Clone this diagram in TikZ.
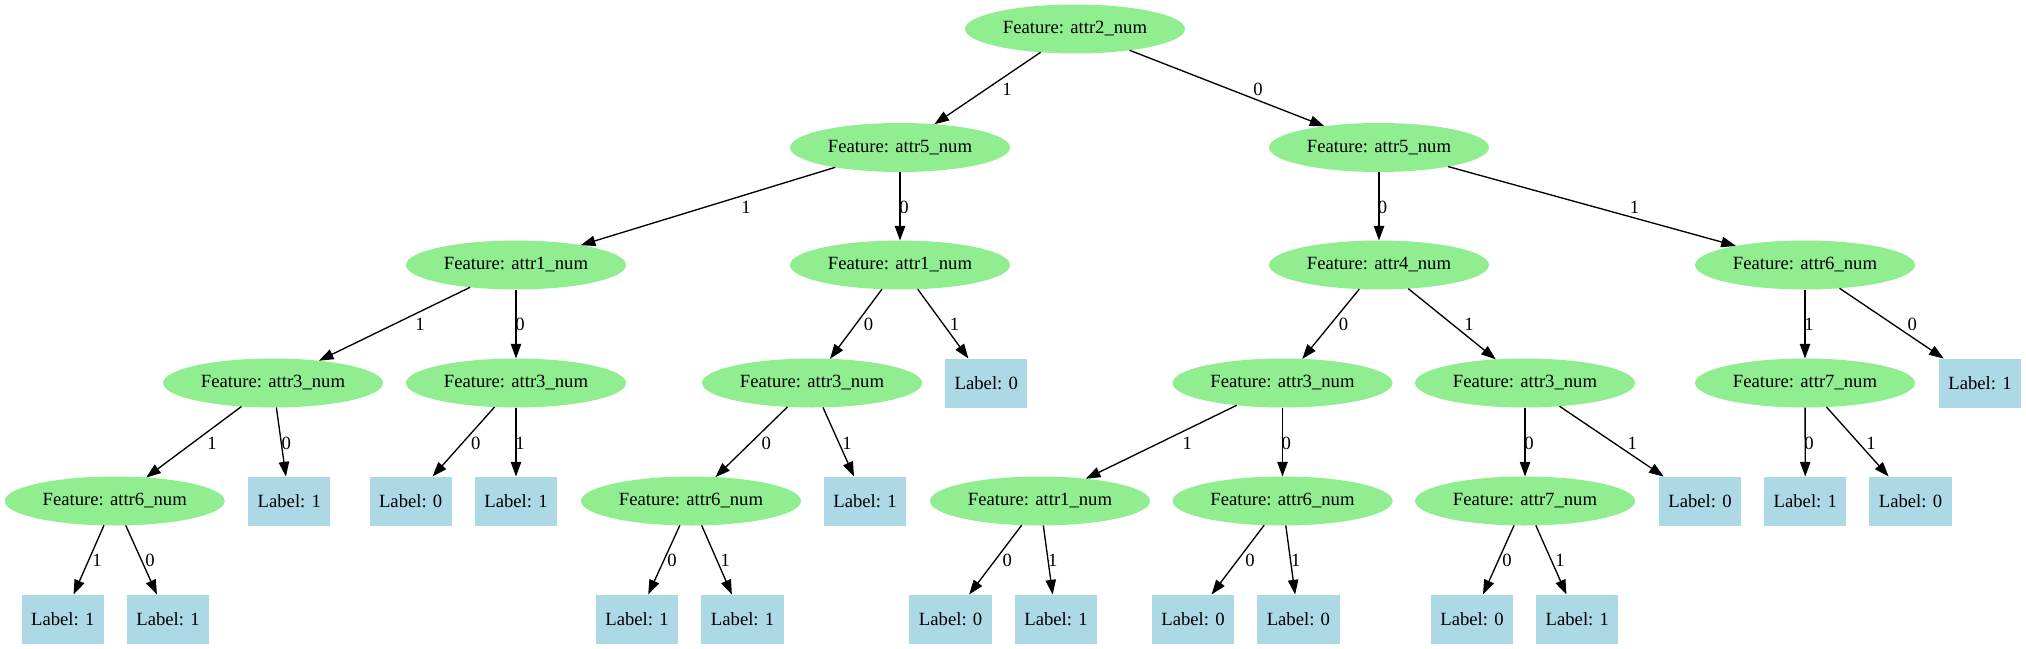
\documentclass[tikz,border=0pt]{standalone}
\usepackage{fontspec}
\setmainfont{Liberation Serif}
\usetikzlibrary{shapes.geometric,arrows.meta}
\definecolor{lgreen}{HTML}{90EE90}
\definecolor{lblue}{HTML}{ADD8E6}
\begin{document}
\begin{tikzpicture}[x=0.75pt,y=-0.75pt,
  every node/.style={font=\fontsize{14pt}{16pt}\selectfont},
  feat/.style={ellipse,fill=lgreen,draw=none,minimum width=165pt,minimum height=36.75pt,inner sep=0pt,outer sep=0pt},
  leaf/.style={rectangle,fill=lblue,draw=none,minimum width=61.7pt,minimum height=36.75pt,inner sep=0pt,outer sep=0pt},
  edge/.style={draw=black,line width=1pt,-{Triangle[length=11pt,width=7.8pt]}},
  elab/.style={inner sep=0pt,fill=none}]
\useasboundingbox (0,0) rectangle (2026,649);
% row 0
\node[feat] (r) at (1075,29) {Feature: attr2\_num};
% row 1
\node[feat] (a5L) at (900,147.5) {Feature: attr5\_num};
\node[feat] (a5R) at (1379,147.5) {Feature: attr5\_num};
% row 2
\node[feat] (a1L) at (516,265) {Feature: attr1\_num};
\node[feat] (a1M) at (900,265) {Feature: attr1\_num};
\node[feat] (a4) at (1379,265) {Feature: attr4\_num};
\node[feat] (a6R) at (1805,265) {Feature: attr6\_num};
% row 3
\node[feat] (a3a) at (273,383) {Feature: attr3\_num};
\node[feat] (a3b) at (516,383) {Feature: attr3\_num};
\node[feat] (a3c) at (812,383) {Feature: attr3\_num};
\node[leaf] (l3a) at (986.3,383) {Label: 0};
\node[feat] (a3d) at (1282.5,383) {Feature: attr3\_num};
\node[feat] (a3e) at (1525,383) {Feature: attr3\_num};
\node[feat] (a7a) at (1805,383) {Feature: attr7\_num};
\node[leaf] (l3b) at (1980,383) {Label: 1};
% row 4
\node[feat] (a6a) at (114.7,501) {Feature: attr6\_num};
\node[leaf] (l4a) at (289.3,501) {Label: 1};
\node[leaf] (l4b) at (410.7,501) {Label: 0};
\node[leaf] (l4c) at (516,501) {Label: 1};
\node[feat] (a6b) at (691,501) {Feature: attr6\_num};
\node[leaf] (l4d) at (865,501) {Label: 1};
\node[feat] (a1b) at (1040,501) {Feature: attr1\_num};
\node[feat] (a6c) at (1282.5,501) {Feature: attr6\_num};
\node[feat] (a7b) at (1525,501) {Feature: attr7\_num};
\node[leaf] (l4e) at (1700,501) {Label: 0};
\node[leaf] (l4f) at (1805.3,501) {Label: 1};
\node[leaf] (l4g) at (1910.5,501) {Label: 0};
% row 5
\node[leaf] (l5a) at (62.8,619) {Label: 1};
\node[leaf] (l5b) at (168,619) {Label: 1};
\node[leaf] (l5c) at (637,619) {Label: 1};
\node[leaf] (l5d) at (742.6,619) {Label: 1};
\node[leaf] (l5e) at (950.6,619) {Label: 0};
\node[leaf] (l5f) at (1056,619) {Label: 1};
\node[leaf] (l5g) at (1193,619) {Label: 0};
\node[leaf] (l5h) at (1298.4,619) {Label: 0};
\node[leaf] (l5i) at (1472,619) {Label: 0};
\node[leaf] (l5j) at (1577.3,619) {Label: 1};
% edges row 0-1
\draw[edge] (r) -- (a5L) node[elab] at (1007,89.3) {1};
\draw[edge] (r) -- (a5R) node[elab] at (1258,89.3) {0};
% row 1-2
\draw[edge] (a5L) -- (a1L) node[elab] at (746,207.3) {1};
\draw[edge] (a5L) -- (a1M) node[elab] at (904,207.3) {0};
\draw[edge] (a5R) -- (a4) node[elab] at (1382.4,207.3) {0};
\draw[edge] (a5R) -- (a6R) node[elab] at (1634.4,207.3) {1};
% row 2-3
\draw[edge] (a1L) -- (a3a) node[elab] at (420,324) {1};
\draw[edge] (a1L) -- (a3b) node[elab] at (520,324) {0};
\draw[edge] (a1M) -- (a3c) node[elab] at (868.5,324) {0};
\draw[edge] (a1M) -- (l3a) node[elab] at (954.6,324) {1};
\draw[edge] (a4) -- (a3d) node[elab] at (1343.5,324) {0};
\draw[edge] (a4) -- (a3e) node[elab] at (1469,324) {1};
\draw[edge] (a6R) -- (a7a) node[elab] at (1809,324) {1};
\draw[edge] (a6R) -- (l3b) node[elab] at (1912.3,324) {0};
% row 3-4
\draw[edge] (a3a) -- (a6a) node[elab] at (212,443.3) {1};
\draw[edge] (a3a) -- (l4a) node[elab] at (286.2,443.3) {0};
\draw[edge] (a3b) -- (l4b) node[elab] at (475.8,443.3) {0};
\draw[edge] (a3b) -- (l4c) node[elab] at (520,443.3) {1};
\draw[edge] (a3c) -- (a6b) node[elab] at (766.2,443.3) {0};
\draw[edge] (a3c) -- (l4d) node[elab] at (847,443.3) {1};
\draw[edge] (a3d) -- (a1b) node[elab] at (1187.2,443.3) {1};
\draw[edge] (a3d) -- (a6c) node[elab] at (1286.3,443.3) {0};
\draw[edge] (a3e) -- (a7b) node[elab] at (1529,443.3) {0};
\draw[edge] (a3e) -- (l4e) node[elab] at (1632.3,443.3) {1};
\draw[edge] (a7a) -- (l4f) node[elab] at (1809,443.3) {0};
\draw[edge] (a7a) -- (l4g) node[elab] at (1871,443.3) {1};
% row 4-5
\draw[edge] (a6a) -- (l5a) node[elab] at (97,560.7) {1};
\draw[edge] (a6a) -- (l5b) node[elab] at (150,560.7) {0};
\draw[edge] (a6b) -- (l5c) node[elab] at (672,560.7) {0};
\draw[edge] (a6b) -- (l5d) node[elab] at (725.2,560.7) {1};
\draw[edge] (a1b) -- (l5e) node[elab] at (1007.3,560.7) {0};
\draw[edge] (a1b) -- (l5f) node[elab] at (1052.8,560.7) {1};
\draw[edge] (a6c) -- (l5g) node[elab] at (1250,560.7) {0};
\draw[edge] (a6c) -- (l5h) node[elab] at (1295.7,560.7) {1};
\draw[edge] (a7b) -- (l5i) node[elab] at (1507,560.7) {0};
\draw[edge] (a7b) -- (l5j) node[elab] at (1560,560.7) {1};
\end{tikzpicture}
\end{document}
